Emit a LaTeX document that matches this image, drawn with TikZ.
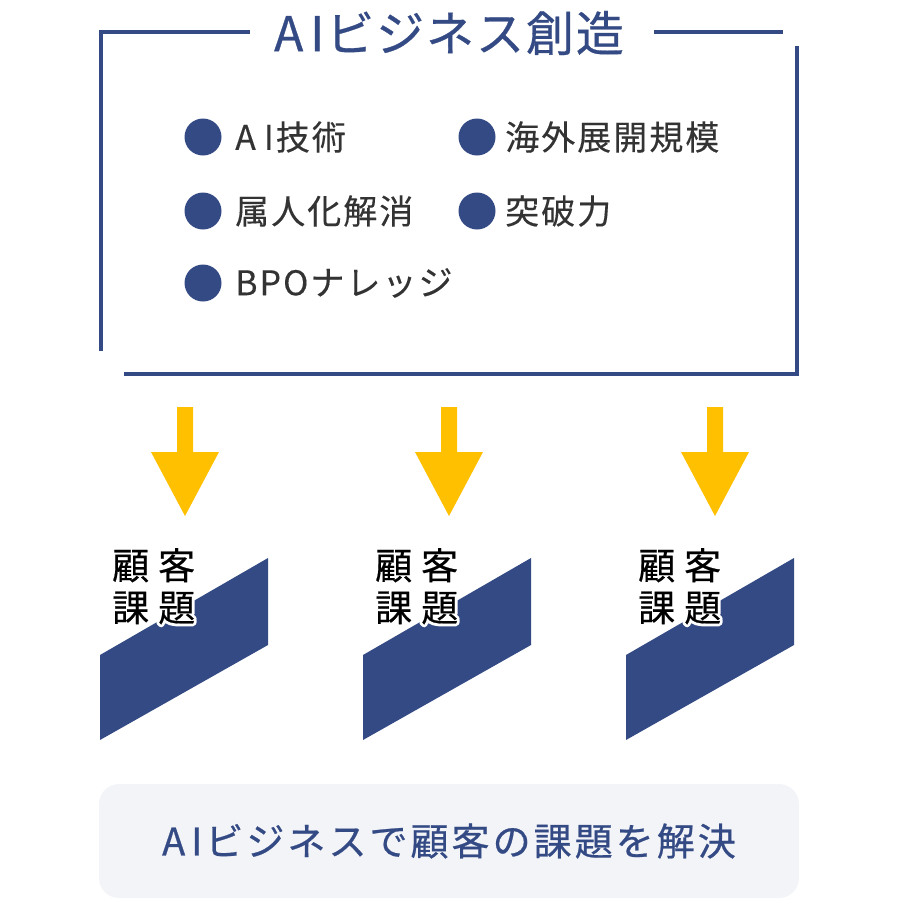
\documentclass[tikz,border=0pt]{standalone}
\usepackage{fontspec}
\setmainfont{Noto Sans CJK JP}
\newfontfamily\jptitle[LetterSpace=4,FakeBold=0.6]{Noto Sans CJK JP}
\newfontfamily\jpgoal[LetterSpace=8,FakeBold=0.6]{Noto Sans CJK JP}
\newfontfamily\jpitem[LetterSpace=6,FakeBold=0.3]{Noto Sans CJK JP}
\newfontfamily\jpissue[FakeBold=0.5]{Noto Sans CJK JP}
\newfontfamily\jpplain{Noto Sans CJK JP}
\usetikzlibrary{positioning,calc}
\definecolor{IssueNavy}{RGB}{52,74,132}
\definecolor{ArrowGold}{RGB}{255,192,0}
\definecolor{PanelGray}{RGB}{243,244,248}
\definecolor{ItemGray}{RGB}{51,51,51}
% white outline behind the issue labels
\newcommand\halo[1]{\special{pdf:literal direct 1 Tr 6 w 1 j}#1\special{pdf:literal direct 0 Tr}}

\tikzset{
  frameline/.style={IssueNavy,line width=3.5pt},
  dotmark/.style={circle,fill=IssueNavy,inner sep=0pt,minimum size=37pt},
  itemtext/.style={anchor=west,inner sep=0pt,text=ItemGray,
    font=\jpitem\fontsize{34}{38}\selectfont},
  issuetext/.style={anchor=north west,inner sep=0pt,align=left,
    font=\fontsize{37}{42}\selectfont},
  panel/.style={fill=PanelGray,rounded corners=20pt,minimum width=700pt,
    minimum height=114pt,text=IssueNavy,font=\jpgoal\fontsize{38}{42}\selectfont}
}

\begin{document}
\begin{tikzpicture}[x=1pt,y=-1pt]
  \useasboundingbox (0,0) rectangle (900,900);

  % frame with title
  \node (title) [inner sep=0pt,text=IssueNavy,
    font=\jptitle\fontsize{48}{52}\selectfont] at (449,33) {A\kern7pt Iビジネス創造};
  \coordinate (tl) at (101,32);
  \coordinate (tr) at (783,32);
  \draw[frameline] ($(title.west)+(-24,-1)$) -- (tl) -- (101,351);
  \draw[frameline] ($(title.east)+(30,-1)$) -- (tr);
  \draw[frameline] (797,46) -- (797,374) -- (124,374);

  % strengths
  \node (d1) [dotmark] at (203,137) {};
  \node (d2) [dotmark] at (203,211) {};
  \node (d3) [dotmark] at (203,283) {};
  \node (d4) [dotmark] at (477,137) {};
  \node (d5) [dotmark] at (477,211) {};
  \node (t1) [itemtext] at (235,137) {A\kern8pt I技術};
  \node (t2) [itemtext] at (235,211) {属人化解消};
  \node (t3) [itemtext] at (235,283) {BPOナレッジ};
  \node (t4) [itemtext] at (505,137) {海外展開規模};
  \node (t5) [itemtext] at (505,211) {突破力};

  % arrows
  \foreach \o in {0,264,530}
    \fill[ArrowGold] (177+\o,407) -- (193+\o,407) -- (193+\o,452) -- (219+\o,452)
      -- (185+\o,516) -- (151+\o,452) -- (177+\o,452) -- cycle;

  % customer issues
  \foreach \o/\n in {0/a,263/b,526/c}{
    \fill[IssueNavy] (100+\o,655) -- (268+\o,558) -- (268+\o,645)
      -- (100+\o,740) -- cycle;
    \node[issuetext,text=white,font=\jpplain\fontsize{37}{42}\selectfont]
      at (112+\o,548) {\halo{顧\hspace{9pt}客}\\\halo{課\hspace{9pt}題}};
    \node (issue\n) [issuetext,font=\jpissue\fontsize{37}{42}\selectfont]
      at (112+\o,548) {顧\hspace{9pt}客\\課\hspace{9pt}題};
  }

  % result
  \node (goal) [panel] at (449,841) {A\kern6pt Iビジネスで顧客の課題を解決};
\end{tikzpicture}
\end{document}
